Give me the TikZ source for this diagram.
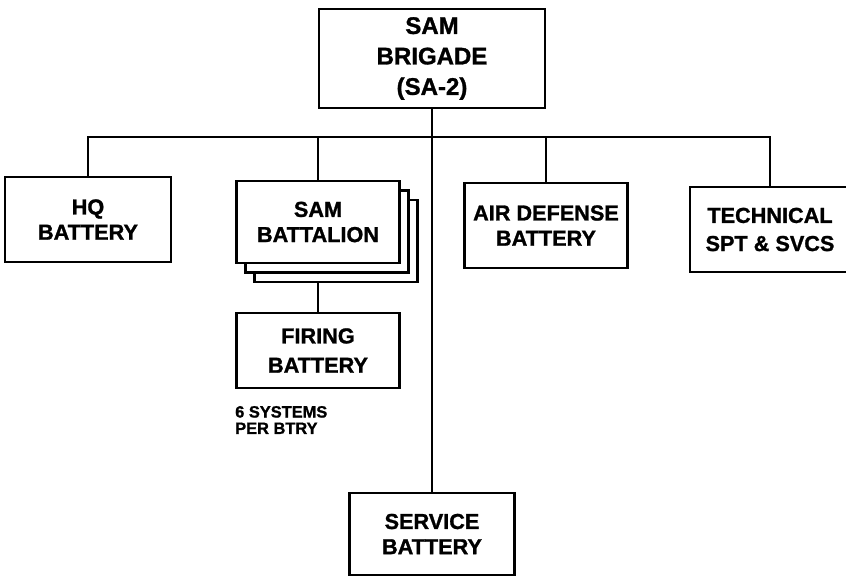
\documentclass[tikz,border=0pt]{standalone}
\usepackage{fontspec}
\setmainfont{Liberation Sans}[BoldFeatures={FakeBold=1.2}]
\usetikzlibrary{positioning}

\begin{document}
\begin{tikzpicture}[x=0.03cm, y=-0.03cm,
      unit/.style={draw, line width=2pt, fill=white, inner sep=0pt, align=center,
                   font=\bfseries\fontsize{18.5}{21.5}\selectfont},
      link/.style={line width=1.6pt},
      note/.style={align=left, inner sep=0pt, anchor=west,
                   font=\bfseries\fontsize{14}{14}\selectfont}
  ]
  \clip (0,0) rectangle (846,577);

  %% ---- Brigade HQ ----
  \node[unit, minimum width=6.78cm, minimum height=2.97cm,
        font=\bfseries\fontsize{20.5}{26}\selectfont] (brigade) at (432,58.5)
      {SAM\\BRIGADE\\(SA-2)};

  %% ---- Subordinate units ----
  \node[unit, minimum width=4.98cm, minimum height=2.55cm] (hq) at (88,219.5)
      {HQ\\BATTERY};
  \node[unit, minimum width=4.89cm, minimum height=2.46cm] (batt3) at (336,241) {};
  \node[unit, minimum width=4.89cm, minimum height=2.46cm] (batt2) at (327,231.5) {};
  \node[unit, minimum width=4.89cm, minimum height=2.46cm] (batt) at (318,222)
      {SAM\\BATTALION};
  \node[unit, minimum width=4.89cm, minimum height=2.55cm] (ad) at (546,225.5)
      {AIR DEFENSE\\BATTERY};
  \node[unit, minimum width=4.8cm, minimum height=2.55cm,
        font=\bfseries\fontsize{18.5}{24}\selectfont] (tech) at (770,229.5)
      {TECHNICAL\\SPT \& SVCS};

  %% ---- Battalion element ----
  \node[unit, minimum width=4.89cm, minimum height=2.25cm,
        font=\bfseries\fontsize{18.5}{25}\selectfont] (fire) at (318,350.5)
      {FIRING\\BATTERY};
  \node[note] (systems) at (235,420) {6 SYSTEMS\\PER BTRY};

  %% ---- Service ----
  \node[unit, minimum width=4.95cm, minimum height=2.46cm] (svc) at (432,534)
      {SERVICE\\BATTERY};

  %% ---- Connections ----
  \coordinate (bus) at (432,137);

  % horizontal bus with drops
  \draw[link] (hq.north) -- (hq.north |- bus) -- (tech.north |- bus) -- (tech.north);
  \draw[link] (batt.north) -- (batt.north |- bus);
  \draw[link] (ad.north) -- (ad.north |- bus);

  % brigade straight down to service battery
  \draw[link] (brigade.south) -- (svc.north);

  % battalion to firing battery
  \draw[link] (fire.north) -- (fire.north |- batt3.south);

\end{tikzpicture}
\end{document}
